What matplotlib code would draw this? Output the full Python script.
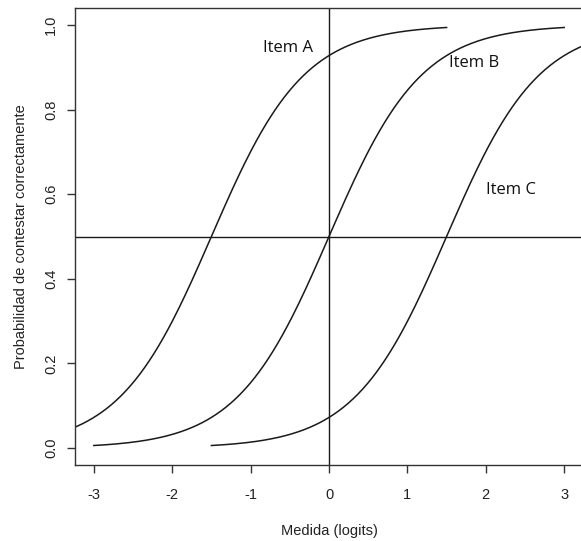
import numpy as np
import matplotlib
matplotlib.use("Agg")
import matplotlib.pyplot as plt

# Item parameters (Rasch / 1PL model, logistic scaling D=1.7)
items = ["Item A", "Item B", "Item C"]
difficulties = [-1.5, 0.0, 1.5]
scale_D = 1.7
half_range = 3.0  # each curve drawn over difficulty +/- 3 logits

label_pos_x = [-0.52, 1.85, 2.32]
label_pos_y = [0.945, 0.91, 0.61]

x_ticks = [-3, -2, -1, 0, 1, 2, 3]
y_ticks = [0.0, 0.2, 0.4, 0.6, 0.8, 1.0]

plt.rcParams['font.family'] = ['Liberation Sans', 'DejaVu Sans']

fig = plt.figure(figsize=(5.81, 5.41), dpi=100)
ax = fig.add_axes([75/581, 1-465/541, (583-75)/581, (465-8)/541])

line_col = "#1a1a1a"
for name, b, lx, ly in zip(items, difficulties, label_pos_x, label_pos_y):
    theta = np.linspace(b - half_range, b + half_range, 300)
    p = 1.0 / (1.0 + np.exp(-scale_D * (theta - b)))
    ax.plot(theta, p, color=line_col, lw=1.1)
    ax.text(lx, ly, name, fontsize=12, family=['Open Sans', 'DejaVu Sans'],
            ha='center', va='center', color='#111111')

ax.axhline(0.5, color=line_col, lw=1.0)
ax.axvline(0.0, color=line_col, lw=1.0)

ax.set_xlim(-3.24, 3.24)
ax.set_ylim(-0.04, 1.04)
ax.set_xticks(x_ticks)
ax.set_xticklabels([str(t) for t in x_ticks])
ax.set_yticks(y_ticks)
ax.set_yticklabels([f"{t:.1f}" for t in y_ticks], rotation=90, va='center')
ax.tick_params(direction='out', length=6, width=1.0, colors='#333333',
               labelsize=10.5, labelcolor='#222222')
ax.tick_params(axis='x', pad=10.5)
ax.tick_params(axis='y', pad=6)
for s in ax.spines.values():
    s.set_color('#333333')
    s.set_linewidth(1.0)

ax.set_xlabel("Medida (logits)", fontsize=10.5, color='#222222', labelpad=16)
ax.set_ylabel("Probabilidad de contestar correctamente", fontsize=10.5,
              color='#222222', labelpad=12)

fig.savefig("out.png", dpi=100)
